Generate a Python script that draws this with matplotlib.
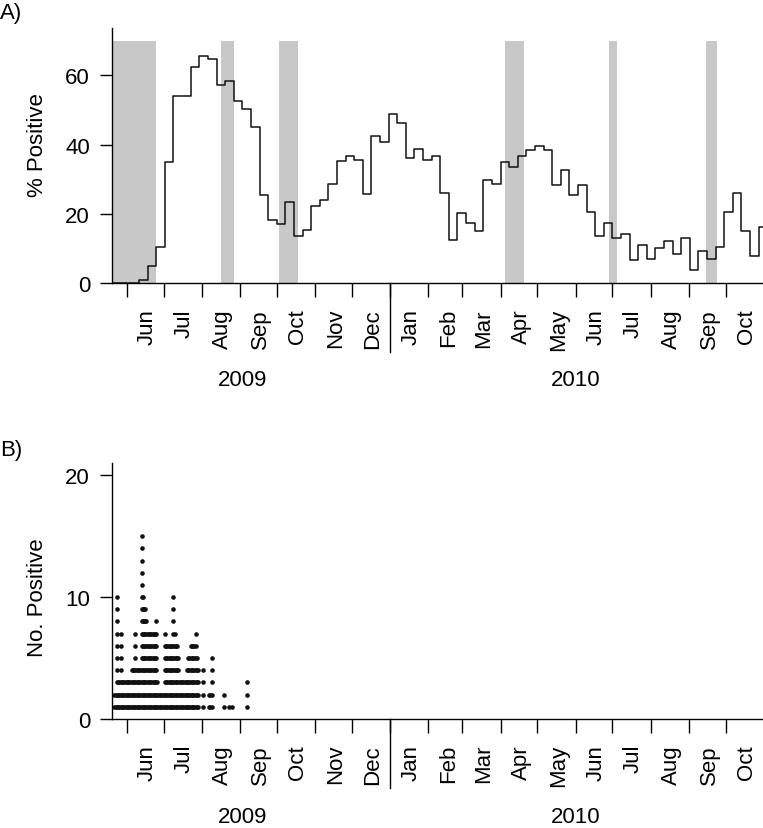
import numpy as np
import matplotlib.pyplot as plt
import matplotlib.dates as mdates
import matplotlib.transforms as mtransforms

plt.rcParams['font.family'] = ['Liberation Sans', 'DejaVu Sans']
plt.rcParams['font.size'] = 16

# A) weekly % positive, weeks starting 2009-05-21
week_start = np.datetime64('2009-05-21')
pct_positive = [0, 0, 0, 1, 5, 10.5, 35, 54, 54, 62.5, 65.7, 64.6, 57.2, 58.4,
                52.6, 50.2, 45.1, 25.3, 18.3, 17.1, 23.5, 13.5, 15.4, 22.3,
                24.1, 28.7, 35.2, 36.8, 35.5, 25.8, 42.4, 40.6, 48.8, 46.2,
                36.2, 38.6, 35.5, 36.7, 26.0, 12.4, 20.3, 17.2, 14.9, 29.9,
                28.7, 35.0, 33.4, 36.6, 38.4, 39.5, 38.4, 28.4, 32.6, 25.3,
                28.4, 20.5, 13.7, 17.3, 12.9, 14.3, 6.6, 11.1, 7.0, 10.2,
                12.1, 8.4, 12.9, 3.8, 9.2, 7.0, 10.4, 20.6, 26.1, 15.0, 7.8,
                16.1]

# shaded periods (start, end)
shade_start = ['2009-05-15', '2009-08-17', '2009-10-03', '2010-04-05',
               '2010-06-28', '2010-09-15']
shade_end = ['2009-06-25', '2009-08-27', '2009-10-18', '2010-04-20',
             '2010-07-05', '2010-09-24']
shade_top = 70

# B) daily number positive, days starting 2009-05-22
day_start = np.datetime64('2009-05-22')
no_positive = [2, 2, 10, 3, 3, 7, 3, 3, 3, 3, 3, 3, 3, 3, 4, 4, 4, 7, 4, 4,
               4, 4, 15, 10, 9, 9, 8, 7, 7, 7, 7, 7, 7, 7, 8, 3, 2, 2, 2, 2,
               2, 7, 6, 6, 6, 6, 6, 6, 10, 7, 6, 6, 5, 3, 3, 3, 3, 3, 3, 4,
               5, 5, 6, 6, 6, 6, 7, 5, 4, 0, 0, 0, 4, 0, 0, 0, 0, 2, 2, 5,
               0, 0, 0, 0, 0, 0, 0, 0, 0, 2, 0, 0, 0, 1, 0, 0, 1, 0, 0, 0,
               0, 0, 0, 0, 0, 0, 0, 0, 3]

years = ['2009', '2010']
year_pos = ['2009-09-03', '2010-06-01']
year_break = np.datetime64('2010-01-01')
x_min = np.datetime64('2009-05-20')
x_max = np.datetime64('2010-10-31T12:00')

W, H = 763, 829
fig = plt.figure(figsize=(W / 100, H / 100), dpi=100)
ax_a = fig.add_axes([112 / W, 1 - 284 / H, 651 / W, 254.7 / H])
ax_b = fig.add_axes([112 / W, 1 - 720 / H, 651 / W, 256 / H])


def style_axis(ax):
    for s in ['top', 'right']:
        ax.spines[s].set_visible(False)
    for s in ['left', 'bottom']:
        ax.spines[s].set_linewidth(1.0)
    ax.set_xlim(x_min, x_max)
    ax.xaxis.set_major_locator(mdates.MonthLocator())
    ax.xaxis.set_major_formatter(plt.NullFormatter())
    ax.xaxis.set_minor_locator(mdates.MonthLocator(bymonthday=18))
    ax.xaxis.set_minor_formatter(mdates.DateFormatter('%b'))
    ax.tick_params(axis='x', which='major', length=10, width=1.0)
    ax.tick_params(axis='x', which='minor', length=0, pad=18,
                   labelrotation=90, labelsize=16)
    ax.tick_params(axis='y', length=8.8, width=1.0, pad=7, labelsize=16)
    trans = mtransforms.blended_transform_factory(ax.transData, ax.transAxes)
    ax.plot([year_break, year_break], [0, -0.27], color='black', lw=1.0,
            transform=trans, clip_on=False)
    for lab, pos in zip(years, year_pos):
        ax.text(np.datetime64(pos), -0.379, lab, transform=trans,
                ha='center', va='center', fontsize=16)


# Panel A
weeks = week_start + np.arange(len(pct_positive) + 1) * np.timedelta64(7, 'D')
vals = np.append(pct_positive, pct_positive[-1])
for s, e in zip(shade_start, shade_end):
    ax_a.fill_between([np.datetime64(s), np.datetime64(e)], 0, shade_top,
                      color='#c8c8c8', lw=0, zorder=1)
ax_a.plot(weeks, vals, drawstyle='steps-post', color='#111111', lw=1.1,
          zorder=3)
ax_a.set_ylim(0, 73.6)
ax_a.set_yticks([0, 20, 40, 60])
ax_a.set_ylabel('% Positive', fontsize=16)
ax_a.yaxis.set_label_coords(-0.098, 0.546)
style_axis(ax_a)

# Panel B: one dot per positive, stacked 1..n for each day
days = day_start + np.arange(len(no_positive)) * np.timedelta64(1, 'D')
counts = np.array(no_positive)
dot_x = np.repeat(days, counts)
dot_y = np.concatenate([np.arange(1, n + 1) for n in counts])
ax_b.plot(dot_x, dot_y, 'o', color='#111111', markersize=3.3, mew=0,
          clip_on=False)
ax_b.set_ylim(0, 21)
ax_b.set_yticks([0, 10, 20])
ax_b.set_ylabel('No. Positive', fontsize=16)
ax_b.yaxis.set_label_coords(-0.098, 0.477)
style_axis(ax_b)

fig.text(0.0, 1 - 14 / H, 'A)', ha='left', va='center', fontsize=16)
fig.text(0.0, 1 - 451 / H, 'B)', ha='left', va='center', fontsize=16)

fig.savefig('out.png', dpi=100)
